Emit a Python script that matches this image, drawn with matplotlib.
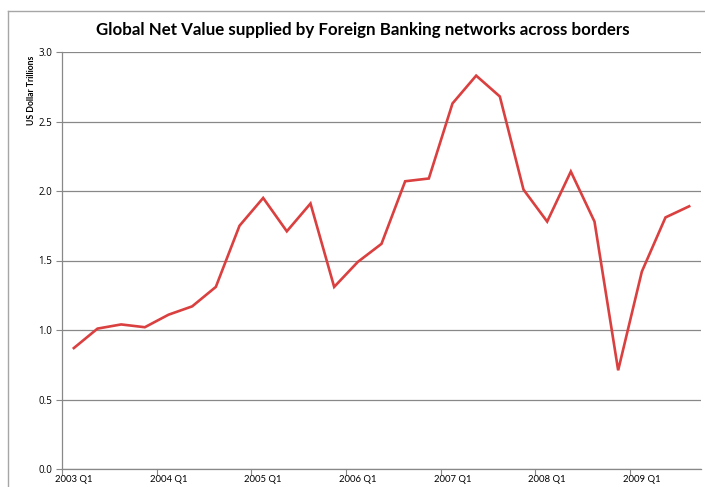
import matplotlib
matplotlib.use("Agg")
import matplotlib.pyplot as plt
from matplotlib.lines import Line2D

# quarterly values, 2003 Q1 .. 2009 Q3 (US dollar trillions)
years = [2003, 2004, 2005, 2006, 2007, 2008, 2009]
values = [0.87, 1.01, 1.04, 1.02,
          1.11, 1.17, 1.31, 1.75,
          1.95, 1.71, 1.91, 1.31,
          1.49, 1.62, 2.07, 2.09,
          2.63, 2.83, 2.68, 2.01,
          1.78, 2.14, 1.78, 0.71,
          1.42, 1.81, 1.89]
y_ticks = [0.0, 0.5, 1.0, 1.5, 2.0, 2.5, 3.0]

plt.rcParams['font.family'] = ['Lato', 'DejaVu Sans']

fig = plt.figure(figsize=(7.05, 4.87), dpi=100)
ax = fig.add_axes([62 / 705, 1 - 469 / 487, (701 - 62) / 705, (469 - 52) / 487])

x = list(range(len(values)))
ax.plot(x, values, color='#d9403f', linewidth=1.9, solid_joinstyle='miter')

ax.set_xlim(-0.5, len(values) - 0.5)
ax.set_ylim(0, 3.0)

# gridlines
ax.set_yticks(y_ticks)
ax.set_yticklabels([f"{v:.1f}" for v in y_ticks], fontsize=7, family=['Open Sans', 'DejaVu Sans'])
ax.yaxis.grid(True, color='#888888', linewidth=0.9)
ax.set_axisbelow(True)

# category axis: ticks between years, labels centred on Q1
ax.set_xticks([i * 4 - 0.5 for i in range(len(years))])
ax.set_xticklabels([])
ax.set_xticks([i * 4 for i in range(len(years))], minor=True)
ax.set_xticklabels([f"{yr} Q1" for yr in years], minor=True, fontsize=6.8)
ax.tick_params(axis='x', which='minor', length=0, pad=4)
ax.tick_params(axis='x', which='major', length=4, color='#888888')
ax.tick_params(axis='y', length=4, color='#888888', pad=3)

for side in ['top', 'right']:
    ax.spines[side].set_visible(False)
for side in ['left', 'bottom']:
    ax.spines[side].set_color('#888888')
    ax.spines[side].set_linewidth(0.9)

fig.text(362.5 / 705, 1 - 30 / 487, 'Global Net Value supplied by Foreign Banking networks across borders',
         ha='center', va='center', fontsize=12.2, fontweight='bold')
fig.text(31 / 705, 1 - 90 / 487, 'US Dollar Trillions', rotation=90,
         ha='center', va='center', fontsize=6.2, fontweight='bold')

# chart frame
fx = 8 / 705
fy = 1 - 11 / 487
fig.add_artist(Line2D([fx, fx], [0, fy], transform=fig.transFigure, color='#a6a6a6', linewidth=1))
fig.add_artist(Line2D([fx, 1], [fy, fy], transform=fig.transFigure, color='#a6a6a6', linewidth=1))

fig.savefig('out.png', dpi=100)
